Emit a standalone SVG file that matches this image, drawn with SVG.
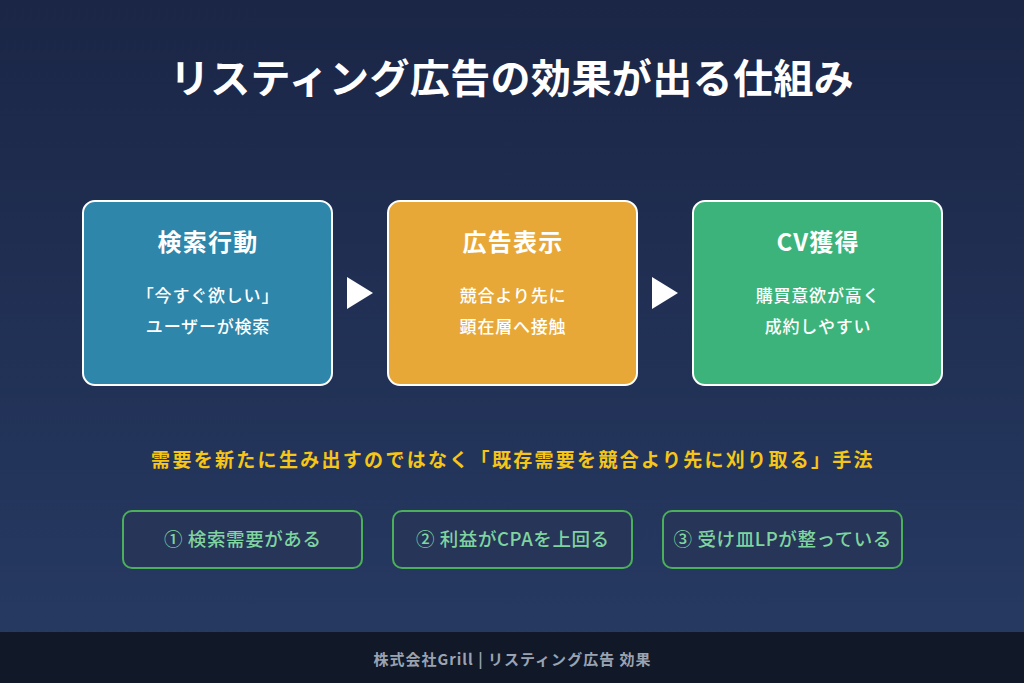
<svg xmlns="http://www.w3.org/2000/svg" width="1024" height="683" viewBox="0 0 1024 683">
<defs>
<linearGradient id="bg" x1="0" y1="0" x2="0" y2="1">
<stop offset="0" stop-color="#1b2646"/>
<stop offset="1" stop-color="#273b64"/>
</linearGradient>
<style>
text{font-family:"Noto Sans CJK JP","Noto Sans",sans-serif;text-anchor:middle}
.box{stroke:#ffffff;stroke-width:2}
.bt{fill:#ffffff;font-size:24px;font-weight:700;letter-spacing:1.2px}
.bl{fill:#ffffff;font-size:17px;font-weight:500;letter-spacing:0.8px}
.pill{fill:#263558;stroke:#4caf5a;stroke-width:2}
.pt{fill:#7fd4a0;font-size:18.5px;font-weight:500;letter-spacing:0.6px}
</style>
</defs>
<rect width="1024" height="683" fill="url(#bg)"/>
<text x="512" y="93" fill="#ffffff" font-size="40" font-weight="700" letter-spacing="0.4">リスティング広告の効果が出る仕組み</text>
<g id="node1">
<rect class="box" x="83" y="201" width="249" height="184" rx="12" fill="#2e86ab"/>
<text class="bt" x="208" y="251">検索行動</text>
<text class="bl" x="208" y="302">「今すぐ欲しい」</text>
<text class="bl" x="208" y="333">ユーザーが検索</text>
</g>
<g id="node2">
<rect class="box" x="388" y="201" width="249" height="184" rx="12" fill="#e8a838"/>
<text class="bt" x="513" y="251">広告表示</text>
<text class="bl" x="513" y="302">競合より先に</text>
<text class="bl" x="513" y="333">顕在層へ接触</text>
</g>
<g id="node3">
<rect class="box" x="693" y="201" width="249" height="184" rx="12" fill="#3cb37a"/>
<text class="bt" x="818" y="251">CV獲得</text>
<text class="bl" x="818" y="302">購買意欲が高く</text>
<text class="bl" x="818" y="333">成約しやすい</text>
</g>
<g id="connectors" fill="#ffffff">
<polygon points="347,277 373,293 347,309"/>
<polygon points="652,277 678,293 652,309"/>
</g>
<text x="513" y="467" fill="#f5c518" font-size="19" font-weight="700" letter-spacing="2.3">需要を新たに生み出すのではなく「既存需要を競合より先に刈り取る」手法</text>
<g id="cond1">
<rect class="pill" x="123" y="511" width="239" height="57" rx="9"/>
<text class="pt" x="242.8" y="546">① 検索需要がある</text>
</g>
<g id="cond2">
<rect class="pill" x="393" y="511" width="239" height="57" rx="9"/>
<text class="pt" x="512.8" y="546">② 利益がCPAを上回る</text>
</g>
<g id="cond3">
<rect class="pill" x="663" y="511" width="239" height="57" rx="9"/>
<text class="pt" x="782.8" y="546">③ 受け皿LPが整っている</text>
</g>
<rect x="0" y="632" width="1024" height="51" fill="#111827"/>
<text x="512.5" y="665" fill="#9aa3b2" font-size="15" font-weight="700" letter-spacing="1">株式会社Grill | リスティング広告 効果</text>
</svg>
